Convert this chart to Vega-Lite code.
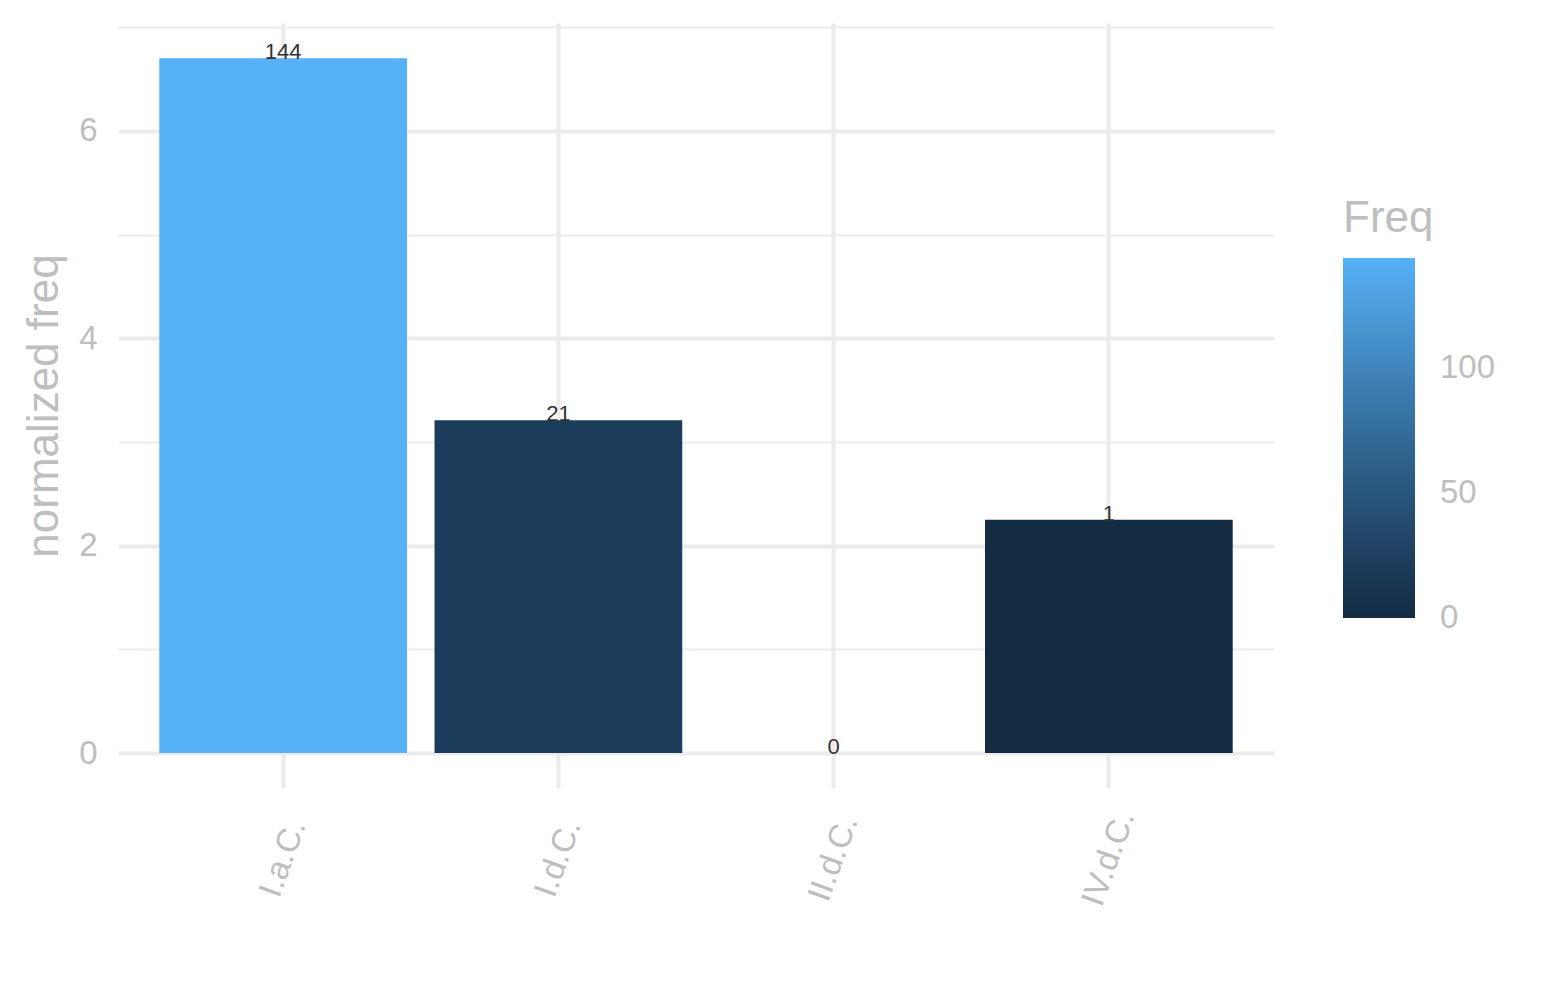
{
  "$schema": "https://vega.github.io/schema/vega-lite/v6.json",
  "autosize": "none",
  "width": 1156,
  "height": 765,
  "padding": {"left": 118, "top": 23, "right": 271, "bottom": 212},
  "background": "white",
  "config": {
    "view": {"stroke": null},
    "font": "Liberation Sans",
    "axis": {"labelColor": "#BEBEBE", "titleColor": "#BEBEBE", "titleFontWeight": "normal", "gridColor": "#EBEBEB", "ticks": false, "domain": false}
  },
  "data": {
    "values": [
      {"group": "I.a.C.", "norm": 6.70, "Freq": 144},
      {"group": "I.d.C.", "norm": 3.21, "Freq": 21},
      {"group": "II.d.C.", "norm": 0, "Freq": 0},
      {"group": "IV.d.C.", "norm": 2.25, "Freq": 1}
    ]
  },
  "encoding": {
    "x": {
      "field": "group", "type": "nominal", "sort": null,
      "scale": {"paddingInner": 0.1, "paddingOuter": 0.15},
      "axis": {
        "title": null, "grid": true, "gridWidth": 4, "bandPosition": 0.5,
        "labelAngle": -70, "labelAlign": "center", "labelBaseline": "middle",
        "labelPadding": 70, "labelFontSize": 33
      }
    },
    "y": {
      "field": "norm", "type": "quantitative",
      "scale": {"domain": [-0.337, 7.04], "nice": false, "zero": false}
    }
  },
  "layer": [
    {
      "mark": {"type": "bar"},
      "encoding": {
        "y": {
          "field": "norm", "type": "quantitative",
          "axis": {
            "title": "normalized freq", "titleFontSize": 44, "titlePadding": 12,
            "values": [0, 2, 4, 6], "labelFontSize": 33, "labelPadding": 21,
            "grid": true, "gridWidth": 4
          }
        },
        "y2": {"datum": 0},
        "color": {
          "field": "Freq", "type": "quantitative",
          "scale": {"domain": [0, 144], "range": ["#132B43", "#56B1F7"], "interpolate": "lab"},
          "legend": {
            "title": "Freq", "orient": "none", "legendX": 1225, "legendY": 174,
            "titleFontSize": 44, "titleColor": "#BEBEBE", "titleFontWeight": "normal", "titlePadding": 17,
            "gradientLength": 360, "gradientThickness": 72, "gradientStrokeWidth": 0,
            "values": [0, 50, 100], "labelFontSize": 33, "labelColor": "#BEBEBE", "labelOffset": 25,
            "encode": {"labels": {"update": {"baseline": {"value": "middle"}}}}
          }
        }
      }
    },
    {
      "mark": {"type": "text", "baseline": "alphabetic", "dy": 1, "fontSize": 22, "color": "#333333"},
      "encoding": {
        "y": {
          "field": "norm", "type": "quantitative",
          "axis": {
            "title": null, "orient": "right", "values": [1, 3, 5, 7], "labels": false,
            "grid": true, "gridWidth": 2
          }
        },
        "text": {"field": "Freq", "type": "quantitative"}
      }
    }
  ],
  "resolve": {"axis": {"y": "independent"}}
}
